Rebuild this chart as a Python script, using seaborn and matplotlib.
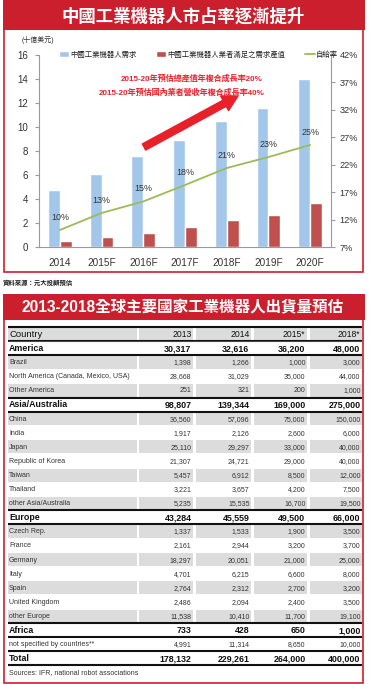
import matplotlib
matplotlib.use('Agg')
import matplotlib.pyplot as plt
from matplotlib.patches import Rectangle
import seaborn as sns
import pandas as pd

# ---- chart data ----
years = ['2014', '2015F', '2016F', '2017F', '2018F', '2019F', '2020F']
demand = [4.75, 6.08, 7.58, 8.9, 10.5, 11.55, 13.97]
domestic = [0.53, 0.83, 1.19, 1.64, 2.22, 2.7, 3.64]
self_rate = [10.1, 13.2, 15.3, 18.3, 21.4, 23.4, 25.6]
rate_labels = ['10%', '13%', '15%', '18%', '21%', '23%', '25%']
series_names = ['中國工業機器人需求', '中國工業機器人業者滿足之需求產值']
line_name = '自給率'

# ---- table data ----
table_cols = ['Country', '2013', '2014', '2015*', '2018*']
countries = ['America', 'Brazil', 'North America (Canada, Mexico, USA)', 'Other America',
             'Asia/Australia', 'China', 'India', 'Japan', 'Republic of Korea', 'Taiwan',
             'Thailand', 'other Asia/Australia', 'Europe', 'Czech Rep.', 'France', 'Germany',
             'Italy', 'Spain', 'United Kingdom', 'other Europe', 'Africa',
             'not specified by countries**', 'Total']
v2013 = [30317, 1398, 28668, 251, 98807, 36560, 1917, 25110, 21307, 5457, 3221, 5235,
         43284, 1337, 2161, 18297, 4701, 2764, 2486, 11538, 733, 4991, 178132]
v2014 = [32616, 1266, 31029, 321, 139344, 57096, 2126, 29297, 24721, 6912, 3657, 15535,
         45559, 1533, 2944, 20051, 6215, 2312, 2094, 10410, 428, 11314, 229261]
v2015 = [36200, 1000, 35000, 200, 169000, 75000, 2600, 33000, 29000, 8500, 4200, 16700,
         49500, 1900, 3200, 21000, 6600, 2700, 2400, 11700, 650, 8650, 264000]
v2018 = [48000, 3000, 44000, 1000, 275000, 150000, 6000, 40000, 40000, 12000, 7500, 19500,
         66000, 3500, 3700, 25000, 8000, 3200, 3500, 19100, 1000, 10000, 400000]
bold_rows = ['America', 'Asia/Australia', 'Europe', 'Africa', 'Total']

RED = '#cc1f2d'
BLUE = '#a3c7ea'
BRED = '#c0504d'
GREEN = '#9bbb59'
GRAY = '#dcdcdc'
TXT = '#333333'

sns.set_style('white')
plt.rcParams['font.family'] = ['Liberation Sans', 'Noto Sans CJK TC', 'DejaVu Sans']
TFONT = ['Liberation Sans', 'DejaVu Sans']

W, H = 370, 684
fig = plt.figure(figsize=(W / 100, H / 100), dpi=100)

# background axes in pixel coordinates
bg = fig.add_axes([0, 0, 1, 1], zorder=0)
bg.set_xlim(0, W)
bg.set_ylim(H, 0)
bg.axis('off')

# top panel frame + title
bg.add_patch(Rectangle((4, 2), 359, 270, fill=False, ec=RED, lw=1.2))
bg.add_patch(Rectangle((3, 0), 362, 30, fc=RED, ec='none'))
bg.text(183, 16, '中國工業機器人市占率逐漸提升', color='white', fontsize=12.5,
        fontweight='bold', ha='center', va='center')
bg.text(3, 283, '資料來源：元大投顧預估', fontsize=4.6, fontweight='bold',
        color='#222', ha='left', va='center')

# bottom panel frame + title
bg.add_patch(Rectangle((4, 295), 359, 388, fill=False, ec=RED, lw=1.2))
bg.add_patch(Rectangle((3, 294), 362, 26, fc=RED, ec='none'))
bg.text(183, 307.5, '2013-2018全球主要國家工業機器人出貨量預估', color='white',
        fontsize=11.2, fontweight='bold', ha='center', va='center')

# ---- bar + line chart ----
ax = fig.add_axes([39 / W, 1 - 247 / H, 292 / W, 192 / H], zorder=2)
ax.patch.set_alpha(0)
df = pd.DataFrame({
    'year': years * 2,
    'value': demand + domestic,
    'series': [series_names[0]] * len(years) + [series_names[1]] * len(years),
})
sns.barplot(data=df, x='year', y='value', hue='series', hue_order=series_names,
            palette=[BLUE, BRED], width=0.57, saturation=1, gap=0, ax=ax)
ax.set_xlim(-0.5, len(years) - 0.5)
ax.set_ylim(0, 16)
ax.set_yticks(range(0, 17, 2))
ax.set_xlabel('')
ax.set_ylabel('')
for s in ['top', 'right']:
    ax.spines[s].set_visible(False)
for s in ['left', 'bottom']:
    ax.spines[s].set_color('#9a9a9a')
    ax.spines[s].set_linewidth(0.8)
ax.tick_params(axis='y', direction='out', length=3, color='#9a9a9a', labelsize=7,
               labelcolor=TXT, pad=5)
ax.tick_params(axis='x', which='major', length=0, labelsize=7.2, labelcolor=TXT, pad=8)
ax.set_xticks([i - 0.5 for i in range(len(years) + 1)], minor=True)
ax.tick_params(axis='x', which='minor', direction='out', length=3, color='#9a9a9a')

ax2 = ax.twinx()
sns.lineplot(x=list(range(len(years))), y=self_rate, color=GREEN, lw=1.3,
             label=line_name, ax=ax2)
ax2.set_ylim(7, 42)
ax2.set_yticks(range(7, 43, 5))
ax2.set_yticklabels([f'{v}%' for v in range(7, 43, 5)])
for s in ['top', 'left', 'bottom']:
    ax2.spines[s].set_visible(False)
ax2.spines['right'].set_color('#9a9a9a')
ax2.spines['right'].set_linewidth(0.8)
ax2.tick_params(axis='y', direction='out', length=3, color='#9a9a9a', labelsize=6.6,
                labelcolor=TXT, pad=3)
for i, (v, lab) in enumerate(zip(self_rate, rate_labels)):
    ax2.annotate(lab, (i, v), xytext=(0, 6), textcoords='offset points', ha='center',
                 va='bottom', fontsize=6.4, color=TXT)

h1, l1 = ax.get_legend_handles_labels()
h2, l2 = ax2.get_legend_handles_labels()
for a in (ax, ax2):
    if a.get_legend() is not None:
        a.get_legend().remove()
fig.legend(h1 + h2, l1 + l2, ncol=3, loc='center left',
           bbox_to_anchor=(59 / W, 1 - 55 / H), frameon=False, fontsize=5.3,
           handlelength=1.35, handleheight=0.8, handletextpad=0.15,
           columnspacing=2.7, borderpad=0, borderaxespad=0,
           labelcolor='#222')

bg.text(22, 40, '(十億美元)', fontsize=5, color=TXT, ha='left', va='center')

# growth annotation
ov = fig.add_axes([0, 0, 1, 1], zorder=3)
ov.set_xlim(0, W)
ov.set_ylim(H, 0)
ov.axis('off')
ov.text(192, 79, '2015-20年預估總產值年複合成長率20%', color='#e8202a', fontsize=5.8,
        fontweight='bold', ha='center', va='center')
ov.text(182, 93, '2015-20年預估國內業者營收年複合成長率40%', color='#e8202a',
        fontsize=5.8, fontweight='bold', ha='center', va='center')
ov.annotate('', xy=(238, 96), xytext=(144, 147),
            arrowprops=dict(arrowstyle='simple,head_length=1.1,head_width=1.2,tail_width=0.5',
                            color='#e8202a', mutation_scale=10, shrinkA=0, shrinkB=0))

# ---- table ----
y0, rh = 327.0, 14.1
cells = [(8, 137), (139, 193), (196, 251), (254, 307), (310, 362)]

shade = []
k = 0
for name in countries:
    if name in bold_rows or name.startswith('not specified'):
        shade.append(False)
        k = 0
    else:
        shade.append(k % 2 == 0)
        k += 1

# header
for (x0, x1) in cells:
    bg.add_patch(Rectangle((x0, y0), x1 - x0, rh, fc=GRAY, ec='none'))
bg.text(9, y0 + rh / 2 + 0.5, table_cols[0], fontsize=6.8, family=TFONT,
        color='#111', ha='left', va='center')
for j, c in enumerate(table_cols[1:]):
    bg.text(cells[j + 1][1] - 1.5, y0 + rh / 2 + 0.5, c, fontsize=6.2, family=TFONT,
            color='#111', ha='right', va='center')

cols = [v2013, v2014, v2015, v2018]
for i, name in enumerate(countries):
    top = y0 + (i + 1) * rh
    cy = top + rh / 2 + 0.4
    if shade[i]:
        for (x0, x1) in cells:
            bg.add_patch(Rectangle((x0, top + 0.6), x1 - x0, rh - 1.2, fc=GRAY, ec='none'))
    is_bold = name in bold_rows
    fs = 6.4 if is_bold else 5.0
    fw = 'bold' if is_bold else 'normal'
    col = '#111' if is_bold else '#333'
    bg.text(9, cy, name, fontsize=fs, fontweight=fw, family=TFONT, color=col,
            ha='left', va='center')
    for j, vals in enumerate(cols):
        bg.text(cells[j + 1][1] - 1.5, cy, f'{vals[i]:,}', fontsize=fs, fontweight=fw,
                family=TFONT, color=col, ha='right', va='center')

# rule lines
thick = [0]
for i, name in enumerate(countries):
    if name in bold_rows:
        thick += [i + 1, i + 2]
for b in sorted(set(thick)):
    bg.plot([8, 362], [y0 + b * rh, y0 + b * rh], color='#111', lw=1.5,
            solid_capstyle='butt')
bg.plot([8, 362], [y0 + rh, y0 + rh], color='#555', lw=0.6)

bg.text(9, y0 + (len(countries) + 1) * rh + 7, 'Sources: IFR, national robot associations',
        fontsize=5.0, family=TFONT, color='#333', ha='left', va='center')

fig.savefig('out.png', dpi=100)
